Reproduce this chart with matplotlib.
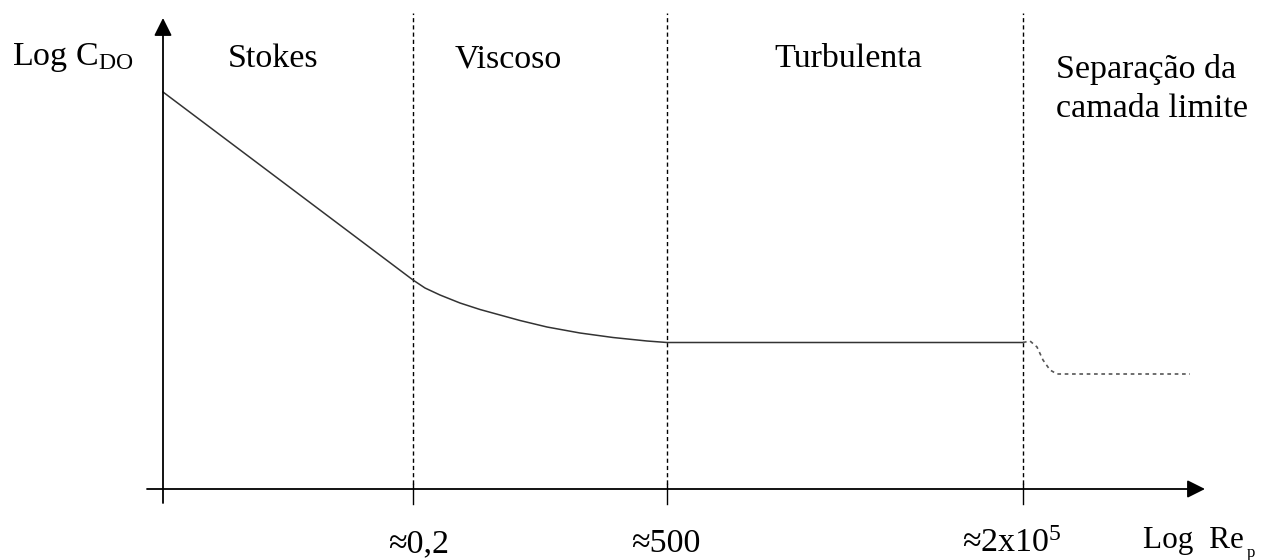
import matplotlib
matplotlib.use("Agg")
import matplotlib.pyplot as plt

plt.rcParams['font.family'] = ['Liberation Serif', 'DejaVu Serif']
plt.rcParams['mathtext.fontset'] = 'custom'
plt.rcParams['mathtext.rm'] = 'Liberation Serif'
plt.rcParams['mathtext.it'] = 'Liberation Serif:italic'

# schematic units: x = regime position, y = log C_DO (arbitrary)
boundaries = [1.0, 2.016, 3.44]
boundary_labels = ['≈0,2', '≈500', r'≈2x10$^{5}$']
regimes = ['Stokes', 'Viscoso', 'Turbulenta']
regime_x = [0.44, 1.38, 2.74]

# solid curve: Stokes line, viscous transition, turbulent plateau
curve_x = [0.0, 1.0, 1.048, 1.108, 1.188, 1.268, 1.348, 1.428, 1.536,
           1.668, 1.80, 1.936, 2.016, 3.44]
curve_y = [3.97, 2.09, 2.01, 1.94, 1.86, 1.795, 1.74, 1.685, 1.62,
           1.56, 1.515, 1.48, 1.465, 1.465]

# dotted drop after boundary layer separation
sep_x = [3.44, 3.468, 3.496, 3.52, 3.548, 3.576, 4.108]
sep_y = [1.465, 1.48, 1.42, 1.29, 1.19, 1.15, 1.15]

fig = plt.figure(figsize=(12.63, 5.6), dpi=100)
ax = fig.add_axes([0, 0, 1, 1])
ax.set_xlim(-0.652, 4.4)
ax.set_ylim(-0.71, 4.89)
ax.axis('off')

# axes with arrows
arrow = dict(arrowstyle='-|>,head_length=0.6,head_width=0.3', color='black',
             lw=1.3, mutation_scale=18, shrinkA=0, shrinkB=0)
ax.annotate('', xy=(0, 4.71), xytext=(0, -0.14), arrowprops=arrow)
ax.annotate('', xy=(4.168, 0), xytext=(-0.064, 0), arrowprops=arrow)

# regime boundaries
for b in boundaries:
    ax.plot([b, b], [0.05, 4.76], color='black', lw=1.0, dashes=(3, 2.2))
    ax.plot([b, b], [-0.15, 0.05], color='black', lw=1.0)

ax.plot(curve_x, curve_y, color='#333333', lw=1.1, solid_joinstyle='round')
ax.plot(sep_x, sep_y, color='#555555', lw=1.2, dashes=(2.2, 2.2))

fs = 24.5
ax.text(-0.604, 4.24, r'Log C$_{\mathrm{DO}}$', fontsize=fs, ha='left', va='baseline')
for label, x in zip(regimes, regime_x):
    ax.text(x, 4.22, label, fontsize=fs, ha='center', va='baseline')
ax.text(3.572, 4.11, 'Separação da', fontsize=fs, ha='left', va='baseline')
ax.text(3.572, 3.72, 'camada limite', fontsize=fs, ha='left', va='baseline')

label_x = [1.024, 2.012, 3.396]
for label, x in zip(boundary_labels, label_x):
    ax.text(x, -0.63, label, fontsize=fs, ha='center', va='baseline')
ax.text(3.92, -0.59, 'Log  Re', fontsize=22.5, ha='left', va='baseline')
ax.text(4.336, -0.68, 'p', fontsize=12, ha='left', va='baseline')

fig.savefig('out.png', dpi=100)
